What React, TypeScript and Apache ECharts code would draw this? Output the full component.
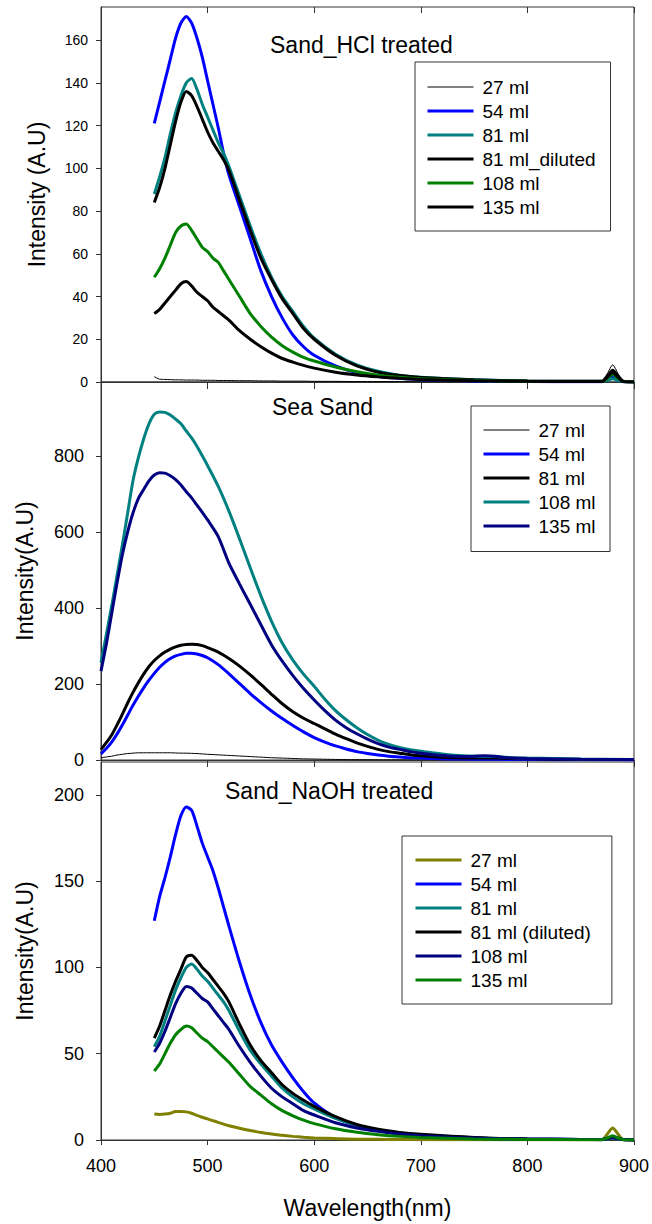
import React, { useEffect, useRef } from "react";
import * as echarts from "echarts";

// ---------- Panel 1: Sand_HCl treated ----------
const WL_HCL = [450, 455, 460, 465, 470, 475, 480, 485, 490, 495, 500, 505, 510, 515, 520, 530, 540, 550, 560, 570, 580, 590, 600, 620, 640, 660, 680, 700, 750, 800, 850, 870, 875, 880, 885, 890, 900];
const HCL_27 = [2.5, 1.3, 1.2, 1.1, 1.0, 1.0, 0.9, 0.9, 0.9, 0.8, 0.8, 0.8, 0.7, 0.7, 0.7, 0.6, 0.6, 0.5, 0.5, 0.4, 0.4, 0.4, 0.3, 0.3, 0.2, 0.2, 0.2, 0.1, 0.1, 0.1, 0.1, 0.2, 4, 8, 4, 0.2, 0];
const HCL_54 = [121, 131, 141, 151, 161, 168, 171, 168, 161, 152, 141, 130, 119, 107, 97, 82, 67, 52, 40, 30, 22, 16.5, 12.5, 7.5, 4.3, 2.6, 1.7, 1.1, 0.5, 0.2, 0.1, 0.1, 1.3, 2.5, 1.3, 0.1, 0];
const HCL_81 = [88, 96, 105, 116, 126, 134, 140, 142, 137, 130, 124, 118, 112, 107, 101, 87, 73, 60, 49, 40, 33, 26, 20.5, 13, 8, 5, 3.2, 2.2, 1, 0.5, 0.3, 0.3, 0.8, 1.5, 0.8, 0.3, 0];
const HCL_81D = [84, 91, 100, 111, 122, 131, 136, 134, 129, 123, 117, 112, 108, 104, 99, 85, 71, 58, 48, 39, 32, 25, 20, 12.5, 7.5, 4.6, 3, 2.1, 1, 0.5, 0.3, 0.3, 2.8, 5.5, 2.8, 0.3, 0];
const HCL_108 = [49, 53, 58, 64, 70, 73, 74, 71, 67, 63, 61, 58, 56, 52, 48, 40, 32, 26, 21, 17, 14, 11.5, 9.8, 7, 4.8, 3.2, 2.2, 1.5, 0.7, 0.3, 0.2, 0.2, 1.8, 3.5, 1.8, 0.2, 0];
const HCL_135 = [32, 34, 37, 40, 43, 46, 47, 45, 42, 40, 38, 35, 33, 31, 29, 24, 20, 16.5, 13.5, 11, 9.3, 7.8, 6.5, 4.6, 3.3, 2.4, 1.7, 1.2, 0.6, 0.3, 0.2, 0.2, 2.3, 4.5, 2.3, 0.2, 0];
const HCL_LABELS = ["27 ml", "54 ml", "81 ml", "81 ml_diluted", "108 ml", "135 ml"];
const HCL_COLORS = ["#000000", "#0000FF", "#008080", "#000000", "#008000", "#000000"];
const HCL_WIDTHS = [1, 3, 3, 3, 3, 3];
const HCL_TICKS = [0, 20, 40, 60, 80, 100, 120, 140, 160];

// ---------- Panel 2: Sea Sand ----------
const WL_SEA = [400, 405, 410, 415, 420, 425, 430, 435, 440, 445, 450, 455, 460, 465, 470, 475, 480, 485, 490, 495, 500, 510, 520, 530, 540, 550, 560, 570, 580, 590, 600, 610, 620, 630, 640, 650, 660, 670, 680, 690, 700, 720, 740, 760, 770, 780, 800, 850, 900];
const SEA_27 = [6, 8, 10, 13, 15, 17, 18, 19, 19, 19, 19, 19, 19, 19, 18.5, 18, 18, 17.5, 17, 16, 15, 13.5, 12, 10.5, 9, 7.5, 6, 5, 4, 3, 2.5, 2, 1.5, 1.2, 1, 0.8, 0.7, 0.6, 0.5, 0.4, 0.4, 0.3, 0.2, 0.2, 0.2, 0.2, 0.1, 0.1, 0];
const SEA_54 = [16, 30, 47, 68, 92, 118, 144, 168, 190, 210, 228, 244, 257, 267, 274, 278, 281, 281, 279, 275, 269, 251, 227, 201, 175, 151, 129, 109, 91, 74, 59, 47, 37, 29, 22, 17, 13, 10, 8, 6, 5, 3.5, 2.5, 2, 2, 1.5, 1, 0.5, 0.3];
const SEA_81 = [28, 46, 66, 92, 120, 150, 178, 203, 226, 246, 262, 274, 284, 292, 298, 302, 304, 305, 304, 301, 296, 284, 267, 247, 224, 199, 173, 148, 127, 110, 96, 82, 68, 56, 45, 36, 28, 22, 18, 14, 11, 7, 5.5, 5, 5, 4, 3, 1.5, 1];
const SEA_108 = [256, 330, 405, 485, 565, 650, 735, 795, 845, 885, 910, 916, 915, 908, 897, 885, 866, 848, 826, 801, 775, 720, 655, 582, 506, 432, 365, 308, 263, 226, 194, 160, 130, 106, 85, 67, 52, 41, 33, 27, 23, 16, 11, 9, 9, 7, 5, 2.5, 1];
const SEA_135 = [234, 305, 385, 465, 540, 600, 650, 688, 712, 735, 750, 756, 755, 748, 738, 724, 706, 690, 671, 652, 632, 588, 518, 463, 410, 356, 303, 260, 222, 188, 158, 130, 105, 85, 69, 55, 43, 34, 28, 22, 18, 12, 9, 11, 10, 6, 4, 2, 1];
const SEA_LABELS = ["27 ml", "54 ml", "81 ml", "108 ml", "135 ml"];
const SEA_COLORS = ["#000000", "#0000FF", "#000000", "#008080", "#000080"];
const SEA_WIDTHS = [1, 3, 3, 3, 3];
const SEA_TICKS = [0, 200, 400, 600, 800];

// ---------- Panel 3: Sand_NaOH treated ----------
const WL_NAOH = [450, 455, 460, 465, 470, 475, 480, 485, 490, 495, 500, 505, 510, 515, 520, 530, 540, 550, 560, 570, 580, 590, 600, 620, 640, 660, 680, 700, 750, 800, 850, 870, 875, 880, 885, 890, 900];
const NAOH_27 = [15, 14.8, 15, 15.5, 16.5, 16.5, 16.3, 15.5, 14.3, 13.2, 12.2, 11.2, 10.2, 9.2, 8.3, 6.8, 5.5, 4.4, 3.5, 2.7, 2.1, 1.6, 1.2, 0.8, 0.5, 0.4, 0.3, 0.2, 0.1, 0.1, 0.1, 0.1, 3.5, 7, 3.5, 0.1, 0];
const NAOH_54 = [127, 141, 152, 164, 177, 188, 193, 191, 182, 172, 164, 156, 146, 135, 124, 103, 84, 68, 55, 45, 36, 28, 21.5, 13, 8.5, 5.5, 3.6, 2.5, 1, 0.5, 0.3, 0.2, 1, 2, 1, 0.2, 0];
const NAOH_81 = [54, 60, 69, 78, 87, 94, 100, 102, 99, 95, 92, 88, 84, 80, 75, 63, 52, 44, 37, 30, 25, 21, 18, 12.5, 8.5, 5.8, 4, 3, 1.3, 0.6, 0.3, 0.3, 0.6, 1, 0.6, 0.3, 0];
const NAOH_81D = [59, 66, 75, 84, 92, 99, 106, 107, 104, 100, 97, 93, 89, 85, 80, 67, 55, 46, 39, 32, 27, 23, 19.5, 13.5, 9, 6.2, 4.4, 3.3, 1.5, 0.6, 0.3, 0.3, 0.8, 1.5, 0.8, 0.3, 0];
const NAOH_108 = [51, 56, 63, 71, 79, 85, 89, 88, 85, 82, 80, 76, 72, 68, 64, 54, 45, 37, 30, 25, 21, 17, 14.5, 10, 7, 5, 3.5, 2.5, 1.1, 0.5, 0.3, 0.3, 0.8, 1.5, 0.8, 0.3, 0];
const NAOH_135 = [40, 44, 50, 56, 61, 64, 66, 65, 62, 59, 57, 54, 51, 48, 45, 38, 31, 26, 21, 17, 14, 11.5, 9.5, 6.5, 4.5, 3.1, 2.1, 1.5, 0.6, 0.3, 0.2, 0.2, 1.2, 2.5, 1.2, 0.2, 0];
const NAOH_LABELS = ["27 ml", "54 ml", "81 ml", "81 ml (diluted)", "108 ml", "135 ml"];
const NAOH_COLORS = ["#808000", "#0000FF", "#008080", "#000000", "#000080", "#008000"];
const NAOH_WIDTHS = [3, 3, 3, 3, 3, 3];
const NAOH_TICKS = [0, 50, 100, 150, 200];

const X_TICKS = [400, 500, 600, 700, 800, 900];
const PANEL_TITLES = ["Sand_HCl treated", "Sea Sand", "Sand_NaOH treated"];
const Y_TITLES = ["Intensity (A.U)", "Intensity(A.U)", "Intensity(A.U)"];
const X_TITLE = "Wavelength(nm)";

const FONT = "'Liberation Sans', Arial, Helvetica, sans-serif";
const AX = "#333333";

function buildSeries(prefix: string, panel: number, wl: number[], values: number[][], labels: string[], colors: string[], widths: number[]) {
  return values.map((vals, i) => ({
    type: "line",
    name: prefix + "|" + labels[i],
    xAxisIndex: panel,
    yAxisIndex: panel,
    data: wl.map((w, k) => [w, vals[k]]),
    symbol: "none",
    showSymbol: false,
    smooth: 0.25,
    clip: true,
    color: colors[i],
    itemStyle: { color: colors[i], borderWidth: 0 },
    lineStyle: { color: colors[i], width: widths[i] },
    emphasis: { disabled: true },
  }));
}

function legendFor(prefix: string, labels: string[], widths: number[], left: number, top: number, padding: number[]) {
  return {
    show: true,
    orient: "vertical",
    left,
    top,
    padding,
    itemWidth: 46,
    itemHeight: 14,
    itemGap: 5,
    selectedMode: false,
    borderColor: AX,
    borderWidth: 1,
    backgroundColor: "#ffffff",
    itemStyle: { borderWidth: 0 },
    textStyle: { fontFamily: FONT, fontSize: 19, color: "#000", lineHeight: 19, padding: [0, 0, 0, 4] },
    formatter: (name: string) => name.split("|")[1],
    data: labels.map((l, i) => ({
      name: prefix + "|" + l,
      icon: widths[i] > 1 ? "path://M0,0H46V3H0Z" : "path://M0,0H46V1H0Z",
    })),
  };
}

export default function App() {
  const ref = useRef<HTMLDivElement>(null);
  useEffect(() => {
    if (!ref.current) return;
    const chart = echarts.init(ref.current, undefined, { renderer: "svg" });
    const grids = [
      { left: 101, width: 533, top: 7, height: 375 },
      { left: 101, width: 533, top: 382, height: 378 },
      { left: 101, width: 533, top: 762, height: 378 },
    ].map((g) => ({ ...g, show: true, borderColor: AX, borderWidth: 1, backgroundColor: "transparent", containLabel: false }));

    const yMax = [175.5, 995, 219];
    const yTicks = [HCL_TICKS, SEA_TICKS, NAOH_TICKS];
    const yFont = [14, 18, 18];
    const yMargin = [13, 17, 17];
    const yNameGap = [53, 65, 65];

    const xAxes: any[] = [0, 1, 2].map((i) => ({
      type: "value",
      gridIndex: i,
      min: 400,
      max: 900,
      interval: 100,
      position: "bottom",
      axisLine: { show: true, lineStyle: { color: AX, width: 1 } },
      axisTick: { show: true, inside: false, length: i === 2 ? 5 : 7, lineStyle: { color: AX } },
      axisLabel: { show: i === 2, fontFamily: FONT, fontSize: 18, color: "#000", margin: 17 },
      splitLine: { show: false },
      name: i === 2 ? X_TITLE : "",
      nameLocation: "middle",
      nameGap: 56,
      nameTextStyle: { fontFamily: FONT, fontSize: 23, color: "#000" },
    }));
    // top border ticks of the first panel
    xAxes.push({
      type: "value",
      gridIndex: 0,
      min: 400,
      max: 900,
      interval: 100,
      position: "top",
      axisLine: { show: false },
      axisTick: { show: true, inside: true, length: 6, lineStyle: { color: AX } },
      axisLabel: { show: false },
      splitLine: { show: false },
    });

    const yAxes = [0, 1, 2].map((i) => ({
      type: "value",
      gridIndex: i,
      min: 0,
      max: yMax[i],
      axisLine: { show: true, lineStyle: { color: AX, width: 1 } },
      axisTick: { show: true, inside: false, length: 5, lineStyle: { color: AX }, customValues: yTicks[i] },
      axisLabel: { show: true, fontFamily: FONT, fontSize: yFont[i], color: "#000", margin: yMargin[i], customValues: yTicks[i] },
      splitLine: { show: false },
      name: Y_TITLES[i],
      nameLocation: "middle",
      nameGap: yNameGap[i],
      nameRotate: 90,
      nameTextStyle: { fontFamily: FONT, fontSize: 23, color: "#000" },
    }));

    const series = [
      ...buildSeries("HCl", 0, WL_HCL, [HCL_27, HCL_54, HCL_81, HCL_81D, HCL_108, HCL_135], HCL_LABELS, HCL_COLORS, HCL_WIDTHS),
      ...buildSeries("Sea", 1, WL_SEA, [SEA_27, SEA_54, SEA_81, SEA_108, SEA_135], SEA_LABELS, SEA_COLORS, SEA_WIDTHS),
      ...buildSeries("NaOH", 2, WL_NAOH, [NAOH_27, NAOH_54, NAOH_81, NAOH_81D, NAOH_108, NAOH_135], NAOH_LABELS, NAOH_COLORS, NAOH_WIDTHS),
    ];

    const titleStyle = { fontFamily: FONT, fontSize: 23, fontWeight: "normal", color: "#000", lineHeight: 26 };
    chart.setOption({
      animation: false,
      backgroundColor: "#ffffff",
      title: [
        { text: PANEL_TITLES[0], left: 270, top: 32, padding: 0, textStyle: titleStyle },
        { text: PANEL_TITLES[1], left: 272, top: 394, padding: 0, textStyle: titleStyle },
        { text: PANEL_TITLES[2], left: 225, top: 778, padding: 0, textStyle: titleStyle },
      ],
      legend: [
        legendFor("HCl", HCL_LABELS, HCL_WIDTHS, 415, 62, [15.5, 15, 14.5, 12.5]),
        legendFor("Sea", SEA_LABELS, SEA_WIDTHS, 471, 406, [14.5, 14.5, 16, 12.5]),
        legendFor("NaOH", NAOH_LABELS, NAOH_WIDTHS, 402, 836, [14.5, 21, 14.5, 13.5]),
      ],
      grid: grids,
      xAxis: xAxes,
      yAxis: yAxes,
      series,
    });
    return () => chart.dispose();
  }, []);
  return <div ref={ref} style={{ position: "absolute", left: 0, top: 0, width: 652, height: 1224 }} />;
}
